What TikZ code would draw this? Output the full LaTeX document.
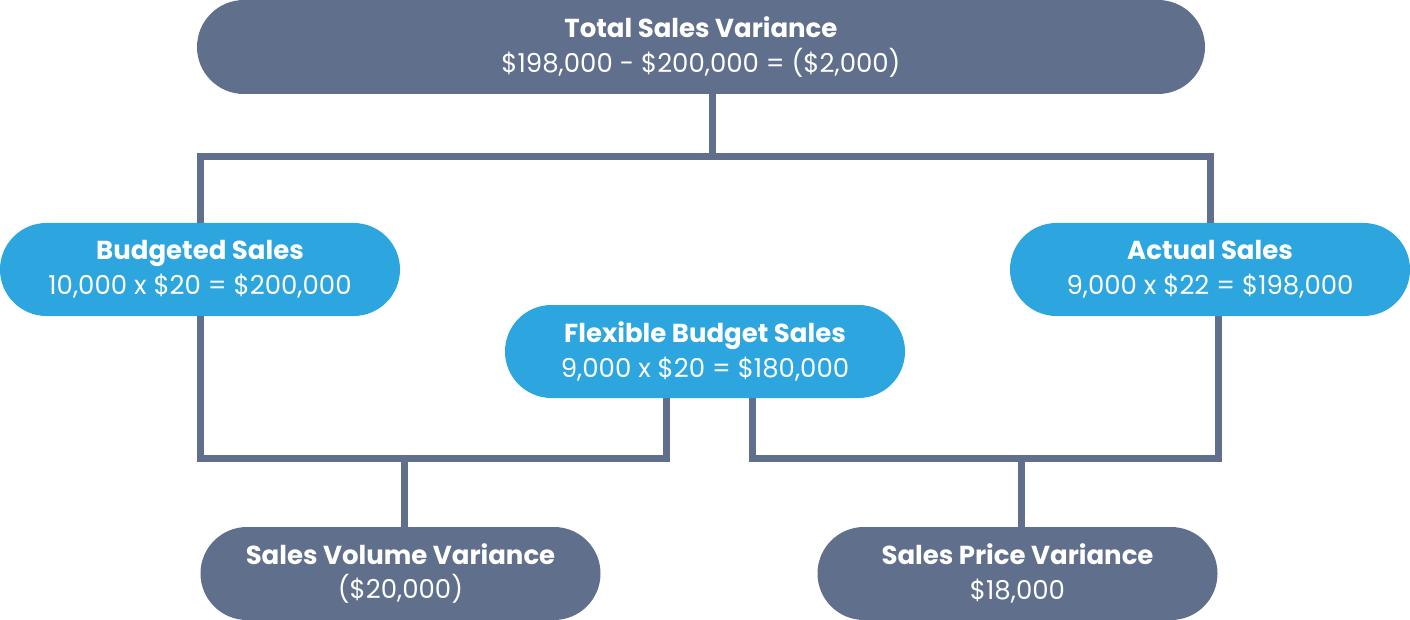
\documentclass[tikz,border=0pt]{standalone}
\usepackage{fontspec}
\setmainfont{Poppins}
\usetikzlibrary{positioning,backgrounds}

\definecolor{slate}{HTML}{606F8C}
\definecolor{skyblue}{HTML}{2DA5DE}

\tikzset{
	pill/.style={rounded corners=46.5pt, minimum width=400pt, minimum height=93pt, inner sep=0pt, text=white, align=center, font=\fontsize{26}{35}\selectfont},
	greypill/.style={pill, fill=slate},
	bluepill/.style={pill, fill=skyblue},
	link/.style={draw=slate, line width=7pt, line cap=rect}
}

\begin{document}
\begin{tikzpicture}[x=1pt, y=-1pt]
	\useasboundingbox (0,0) rectangle (1410,620);
	\node[greypill, minimum width=1008pt, minimum height=94pt, rounded corners=47pt] (total) at (701,47) {\textbf{Total Sales Variance}\\\$198,000 - \$200,000 = (\$2,000)};
	\node[bluepill] (budget) at (200,269.5) {\textbf{Budgeted Sales}\\10,000 x \$20 = \$200,000};
	\node[bluepill] (actual) at (1210,269.5) {\textbf{Actual Sales}\\9,000 x \$22 = \$198,000};
	\node[bluepill] (flex) at (705,351.5) {\textbf{Flexible Budget Sales}\\9,000 x \$20 = \$180,000};
	\node[greypill] (volume) at (400.5,573.5) {\textbf{Sales Volume Variance}\\(\$20,000)};
	\node[greypill] (price) at (1017.5,573.5) {\textbf{Sales Price Variance}\\\$18,000};

	% junctions
	\coordinate (jtop) at (712,157);
	\coordinate (jvol) at (404,458);
	\coordinate (jprice) at (1021,458);

	\begin{scope}[on background layer]
	\draw[link] (total.south -| jtop) -- (jtop);
	\draw[link] (budget.north) |- (jtop) -| (actual.north);
	\draw[link] (budget.south) |- (jvol) -| ([xshift=-39pt]flex.south);
	\draw[link] ([xshift=47pt]flex.south) |- (jprice) -| ([xshift=8pt]actual.south);
	\draw[link] (jvol) -- (jvol |- volume.north);
	\draw[link] (jprice) -- (jprice |- price.north);
	\end{scope}
\end{tikzpicture}
\end{document}
